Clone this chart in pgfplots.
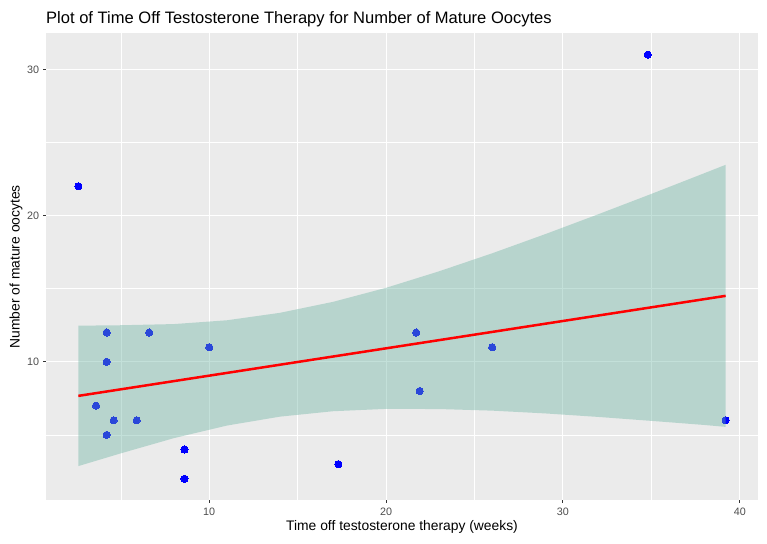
\documentclass[border=0pt]{standalone}
\usepackage{pgfplots}
\pgfplotsset{compat=1.18}
\usepackage{fontspec}
\setmainfont{Liberation Sans}
\definecolor{panelbg}{HTML}{EBEBEB}
\definecolor{grey30}{HTML}{4D4D4D}
\definecolor{grey20}{HTML}{333333}
\definecolor{ribbon}{HTML}{69B3A2}
\begin{document}
\begin{tikzpicture}
\path[use as bounding box] (-46bp,-44bp) rectangle (721bp,500bp);
\begin{axis}[
  at={(0,0)}, anchor=south west,
  scale only axis,
  width=712bp, height=466.5bp,
  xmin=0.77, xmax=41.03,
  ymin=0.55, ymax=32.45,
  xtick={10,20,30,40}, ytick={10,20,30},
  minor xtick={5,15,25,35}, minor ytick={5,15,25},
  xmajorgrids, ymajorgrids, xminorgrids, yminorgrids,
  major grid style={draw=white, line width=1.07bp},
  minor grid style={draw=white, line width=0.53bp},
  axis background/.style={fill=panelbg},
  axis line style={draw=none},
  tick align=outside,
  major tick length=2.75bp,
  minor tick length=0bp,
  major tick style={draw=grey20, line width=1.07bp},
  tick pos=left,
  /pgf/number format/assume math mode=true,
  xticklabel style={font=\fontsize{10.8}{12}\selectfont, text=grey30, inner sep=0pt, anchor=north, yshift=-5bp},
  yticklabel style={font=\fontsize{10.8}{12}\selectfont, text=grey30, inner sep=0pt, anchor=east, xshift=-4bp},
  clip=false,
  clip marker paths=true,
]
% points
\addplot[only marks, color=blue, mark=*, mark size=3.6bp, mark options={fill=blue, draw=blue, line width=0pt}] coordinates {
(2.6,22) (3.6,7) (4.2,12) (4.2,10) (4.2,5) (4.6,6) (5.9,6) (6.6,12)
(8.6,4) (8.6,2) (10.0,11) (17.3,3) (21.7,12) (21.9,8) (26.0,11)
(34.8,31) (39.2,6)
};
% confidence ribbon
\addplot[fill=ribbon, fill opacity=0.4, draw=none] coordinates {
(2.6,12.47) (5,12.50) (8,12.58) (11,12.84) (14,13.35) (17,14.10) (20,15.06)
(23,16.19) (26,17.42) (29,18.73) (32,20.09) (35,21.48) (38,22.90) (39.2,23.47)
(39.2,5.55) (38,5.68) (35,5.96) (32,6.23) (29,6.47) (26,6.66) (23,6.77)
(20,6.78) (17,6.62) (14,6.25) (11,5.64) (8,4.78) (5,3.74) (2.6,2.87)
} -- cycle;
% regression line
\addplot[draw=red, line width=2.5bp] coordinates {(2.6,7.67) (39.2,14.51)};
\node[anchor=base west, inner sep=0pt, font=\fontsize{16.6}{18}\selectfont] at (rel axis cs:0,1) [yshift=9.5bp] {Plot of Time Off Testosterone Therapy for Number of Mature Oocytes};
\node[anchor=base, inner sep=0pt, font=\fontsize{13.9}{15}\selectfont] at (rel axis cs:0.5,0) [yshift=-30bp] {Time off testosterone therapy (weeks)};
\node[rotate=90, anchor=center, inner sep=0pt, font=\fontsize{13.9}{15}\selectfont] at (rel axis cs:0,0.5) [yshift=30bp] {Number of mature oocytes};
\end{axis}
\end{tikzpicture}
\end{document}
